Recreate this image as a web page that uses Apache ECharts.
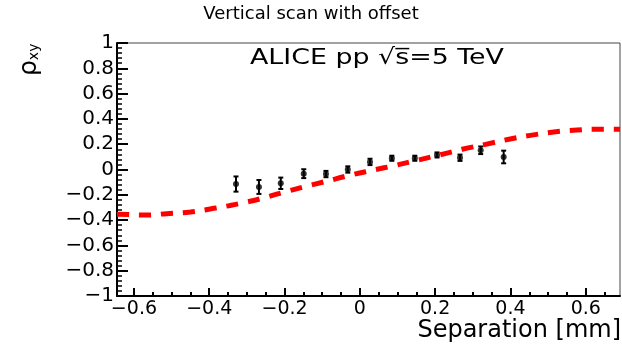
<!DOCTYPE html>
<html>
<head>
<meta charset="utf-8">
<script src="https://cdn.jsdelivr.net/npm/echarts@6/dist/echarts.min.js"></script>
<style>
html,body{margin:0;padding:0;background:#fff;}
#c{width:622px;height:348px;}
</style>
</head>
<body>
<div id="c"></div>
<script>
// ---- data ----
const pointX   = [-0.329, -0.268, -0.210, -0.149, -0.090, -0.032, 0.027, 0.085, 0.146, 0.205, 0.266, 0.321, 0.382];
const pointY   = [-0.115, -0.138, -0.109, -0.033, -0.036, 0.000, 0.060, 0.089, 0.089, 0.115, 0.093, 0.152, 0.099];
const pointErr = [0.060, 0.055, 0.045, 0.035, 0.025, 0.025, 0.025, 0.020, 0.020, 0.020, 0.025, 0.030, 0.050];

const curveX = [-0.645, -0.640, -0.569, -0.513, -0.450, -0.388, -0.321, -0.264, -0.206, -0.146, -0.087, -0.027, 0.033, 0.095, 0.152, 0.212, 0.272, 0.334, 0.396, 0.453, 0.515, 0.577, 0.639, 0.691];
const curveY = [-0.355, -0.354, -0.360, -0.349, -0.336, -0.307, -0.270, -0.231, -0.183, -0.136, -0.091, -0.046, -0.006, 0.033, 0.073, 0.115, 0.160, 0.199, 0.239, 0.270, 0.296, 0.312, 0.318, 0.318];

const xMajorTicks = [-0.6, -0.4, -0.2, 0, 0.2, 0.4, 0.6];
const xMinorTicks = [-0.55, -0.5, -0.45, -0.35, -0.3, -0.25, -0.15, -0.1, -0.05, 0.05, 0.1, 0.15, 0.25, 0.3, 0.35, 0.45, 0.5, 0.55, 0.65];

const titleText = 'Vertical scan with offset';
const xTitle = 'Separation [mm]';

// ---- chart ----
const FONT = 'DejaVu Sans';
function fmt(v){
  const r = Math.round(v*10)/10;
  if (Math.abs(r) < 1e-9) return '0';
  return (r < 0 ? '\u2212' : '') + String(Math.abs(r));
}

const chart = echarts.init(document.getElementById('c'));
const pts = pointX.map((x,i)=>[x, pointY[i], pointErr[i]]);
const curve = curveX.map((x,i)=>[x, curveY[i]]);

chart.setOption({
  animation:false,
  backgroundColor:'#fff',
  grid:{left:117, top:43, width:503, height:253, show:true, borderColor:'#444', borderWidth:1, backgroundColor:'transparent'},
  xAxis:[{
    type:'value', min:-0.645, max:0.691,
    axisLine:{show:true, onZero:false, lineStyle:{color:'#000', width:2}},
    axisTick:{show:true, inside:true, length:8, customValues:xMajorTicks, lineStyle:{color:'#000', width:2}},
    axisLabel:{show:true, customValues:xMajorTicks, formatter:fmt, margin:4, fontFamily:FONT, fontSize:19, color:'#000'},
    splitLine:{show:false}
  },{
    type:'value', min:-0.645, max:0.691, position:'bottom',
    axisLine:{show:false, onZero:false},
    axisTick:{show:true, inside:true, length:4, customValues:xMinorTicks, lineStyle:{color:'#000', width:2}},
    axisLabel:{show:false},
    splitLine:{show:false}
  }],
  yAxis:{
    type:'value', min:-1, max:1, interval:0.2,
    axisLine:{show:true, onZero:false, lineStyle:{color:'#000', width:2}},
    axisTick:{show:true, inside:true, length:11, lineStyle:{color:'#000', width:2}},
    minorTick:{show:true, splitNumber:5, length:5, lineStyle:{color:'#000', width:1.5}},
    axisLabel:{formatter:fmt, margin:3, fontFamily:FONT, fontSize:20, color:'#000'},
    splitLine:{show:false}, minorSplitLine:{show:false}
  },
  graphic:[
    {type:'text', left:'center', top:5, style:{text:titleText, font:'18px "DejaVu Sans"', fill:'#000'}},
    {type:'text', x:250, y:47, scaleX:1.22, style:{text:'ALICE pp \u221As\u0305=5 TeV', font:'22px "DejaVu Sans"', fill:'#000'}},
    {type:'text', x:621, y:319, style:{text:xTitle, font:'24px "DejaVu Sans"', fill:'#000', textAlign:'right'}},
    {type:'text', x:17, y:76, rotation:Math.PI/2, style:{
      text:'{r|\u03C1}{s|xy}', fill:'#000',
      rich:{r:{fontFamily:FONT, fontSize:25, fill:'#000'}, s:{fontFamily:FONT, fontSize:14, fill:'#000', padding:[10,0,0,0]}}
    }}
  ],
  series:[
    {type:'line', data:curve, smooth:true, showSymbol:false, symbol:'none', xAxisIndex:0,
     lineStyle:{color:'#ff0000', width:5, type:[12,10], cap:'butt'}, z:3},
    {type:'custom', data:pts, xAxisIndex:0, z:4,
     renderItem:function(params, api){
       const x=api.value(0), y=api.value(1), e=api.value(2);
       const top=api.coord([x,y+e]), bot=api.coord([x,y-e]);
       const cw=2.5;
       return {type:'group', children:[
         {type:'line', shape:{x1:top[0],y1:top[1],x2:bot[0],y2:bot[1]}, style:{stroke:'#000', lineWidth:2}},
         {type:'line', shape:{x1:top[0]-cw,y1:top[1],x2:top[0]+cw,y2:top[1]}, style:{stroke:'#000', lineWidth:2}},
         {type:'line', shape:{x1:bot[0]-cw,y1:bot[1],x2:bot[0]+cw,y2:bot[1]}, style:{stroke:'#000', lineWidth:2}}
       ]};
     }},
    {type:'scatter', data:pts.map(p=>[p[0],p[1]]), xAxisIndex:0, symbol:'circle', symbolSize:6,
     itemStyle:{color:'#000'}, z:5}
  ]
});
</script>
</body>
</html>
